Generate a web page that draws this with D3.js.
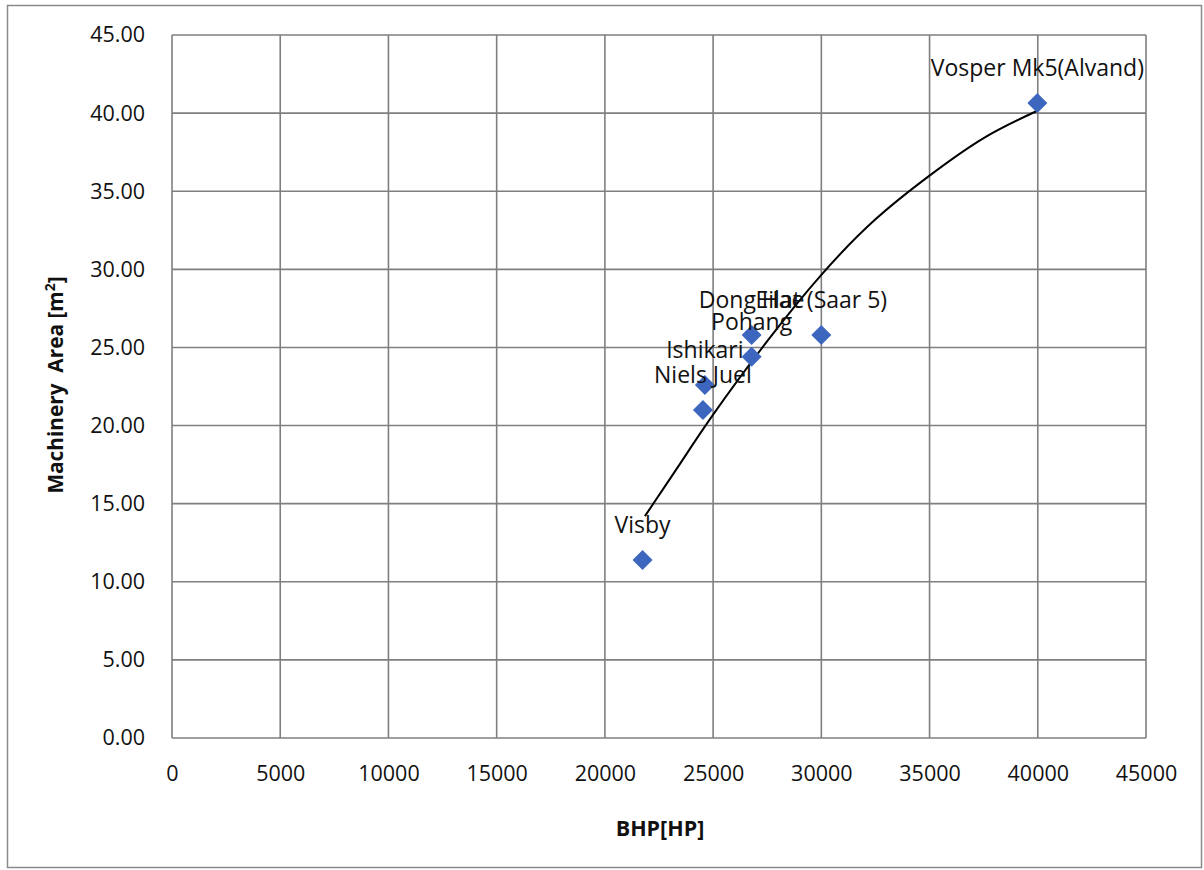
<!DOCTYPE html>
<html><head><meta charset="utf-8">
<script src="https://cdn.jsdelivr.net/npm/d3@7"></script>
<style>
html,body{margin:0;padding:0;background:#fff;}
svg{display:block;font-family:"Open Sans",sans-serif;}
</style></head>
<body><svg id="c" width="1204" height="870"></svg>
<script>
const ships = ["Visby","Niels Juel","Ishikari","Pohang","Dong Hae","Eilat (Saar 5)","Vosper Mk5(Alvand)"];
const bhp   = [21740, 24530, 24620, 26780, 26780, 30000, 39980];
const area  = [11.4, 21.0, 22.6, 24.4, 25.8, 25.8, 40.65];
// trendline
const trendBhp  = [21850, 23400, 25000, 27500, 30000, 32500, 35000, 37500, 39980];
const trendArea = [14.2, 17.4, 20.7, 25.4, 29.65, 33.2, 36.0, 38.4, 40.15];
const xTicks = [0,5000,10000,15000,20000,25000,30000,35000,40000,45000];
const yTicks = [0,5,10,15,20,25,30,35,40,45];

const svg = d3.select("#c");
const L=172, R=1146, T=35, B=738;
const x = d3.scaleLinear().domain([0,45000]).range([L,R]);
const y = d3.scaleLinear().domain([0,45]).range([B,T]);

svg.append("rect").attr("x",7.5).attr("y",5.5).attr("width",1194).attr("height",862)
  .attr("fill","#fff").attr("stroke","#8a8a8a").attr("stroke-width",1.5);

const grid = svg.append("g").attr("stroke","#7f7f7f").attr("stroke-width",1.6);
grid.selectAll("line.v").data(xTicks).join("line")
  .attr("x1",d=>x(d)).attr("x2",d=>x(d)).attr("y1",T).attr("y2",B);
grid.selectAll("line.h").data(yTicks).join("line")
  .attr("y1",d=>y(d)).attr("y2",d=>y(d)).attr("x1",L).attr("x2",R);

const yAxis = svg.append("g").attr("transform",`translate(${L},0)`)
  .call(d3.axisLeft(y).tickValues(yTicks).tickFormat(d3.format(".2f")).tickSize(0).tickPadding(27));
const xAxis = svg.append("g").attr("transform",`translate(0,${B})`)
  .call(d3.axisBottom(x).tickValues(xTicks).tickFormat(d3.format("d")).tickSize(0).tickPadding(28));
[yAxis,xAxis].forEach(a=>{a.select(".domain").remove();
  a.selectAll("text").attr("font-size",21.5).attr("fill","#111").attr("font-family","'Open Sans',sans-serif");});

const tp = trendBhp.map((b,i)=>[b,trendArea[i]]);
svg.append("path").datum(tp)
  .attr("d",d3.line().x(d=>x(d[0])).y(d=>y(d[1])).curve(d3.curveNatural))
  .attr("fill","none").attr("stroke","#000").attr("stroke-width",2);

const pts = ships.map((s,i)=>({s,x:bhp[i],y:area[i]}));
svg.append("g").selectAll("path").data(pts).join("path")
  .attr("transform",d=>`translate(${x(d.x)},${y(d.y)})`)
  .attr("d","M0,-10L10,0L0,10L-10,0Z").attr("fill","#3d67bf");

svg.append("g").selectAll("text").data(pts).join("text")
  .attr("x",d=>x(d.x)).attr("y",d=>y(d.y)-27)
  .attr("text-anchor","middle").attr("font-size",23).attr("fill","#111")
  .text(d=>d.s);

svg.append("text").attr("x",660).attr("y",836).attr("text-anchor","middle")
  .attr("font-size",21.5).attr("font-weight","bold").attr("fill","#111").text("BHP[HP]");
svg.append("text").attr("transform","translate(63,385) rotate(-90)").attr("text-anchor","middle")
  .attr("font-size",20.8).attr("font-weight","bold").attr("fill","#111")
  .attr("xml:space","preserve")
  .html("Machinery  Area [m<tspan dy='-8' font-size='14'>2</tspan><tspan dy='8'>]</tspan>");
</script></body></html>
